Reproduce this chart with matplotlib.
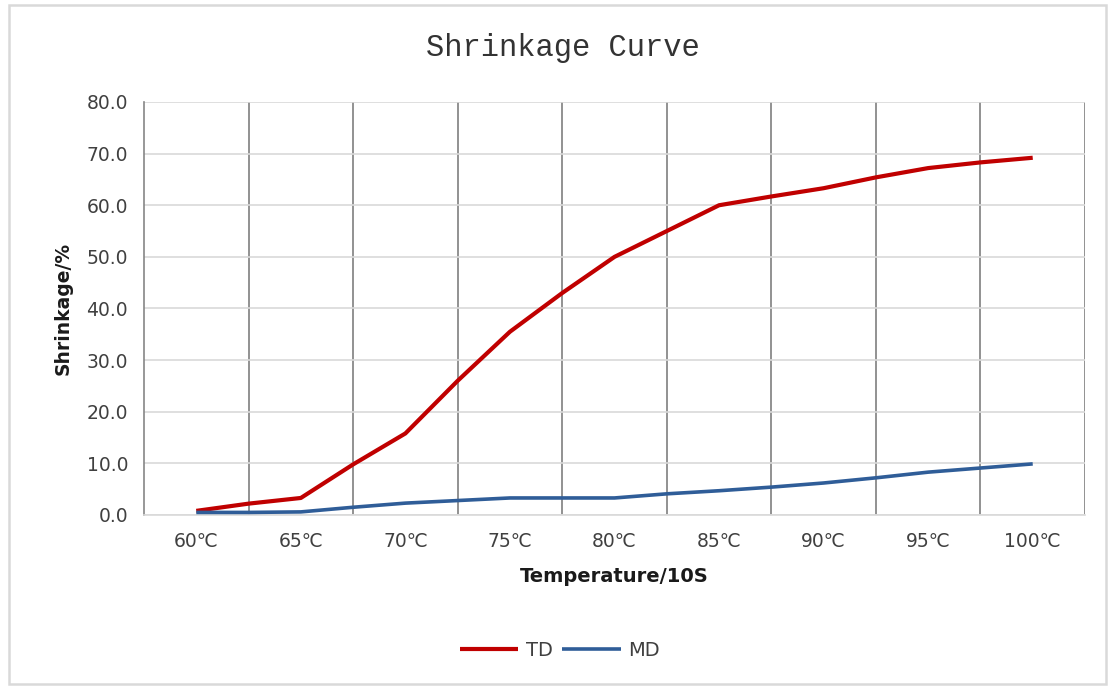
import matplotlib
matplotlib.use("Agg")
import matplotlib.pyplot as plt
from matplotlib.patches import Rectangle
from matplotlib.ticker import FixedLocator, FixedFormatter

temps = [60, 62.5, 65, 67.5, 70, 72.5, 75, 77.5, 80, 82.5, 85, 87.5, 90, 92.5, 95, 97.5, 100]
td = [0.8, 2.2, 3.3, 9.8, 15.8, 26.0, 35.5, 43.0, 50.0, 55.0, 60.0, 61.7, 63.3, 65.4, 67.2, 68.3, 69.2]
md = [0.5, 0.5, 0.6, 1.5, 2.3, 2.8, 3.3, 3.3, 3.3, 4.1, 4.7, 5.4, 6.2, 7.2, 8.3, 9.1, 9.9]
tick_temps = [60, 65, 70, 75, 80, 85, 90, 95, 100]
tick_labels = ["60℃", "65℃", "70℃", "75℃", "80℃", "85℃", "90℃", "95℃", "100℃"]
y_ticks = [0, 10, 20, 30, 40, 50, 60, 70, 80]

W, H = 1110, 687
fig = plt.figure(figsize=(W / 100, H / 100), dpi=100)
fig.patch.set_facecolor("white")

# chart area border
fig.add_artist(Rectangle((9 / W, 3 / H), 1097 / W, 679 / H, transform=fig.transFigure,
                         fill=False, edgecolor="#d9d9d9", linewidth=1.8))

ax = fig.add_axes([144 / W, (H - 515) / H, (1085 - 144) / W, (515 - 102) / H])

ax.plot(temps, td, color="#c00000", linewidth=3.0, label="TD", solid_capstyle="butt", zorder=3)
ax.plot(temps, md, color="#2f5d98", linewidth=2.6, label="MD", solid_capstyle="butt", zorder=3)

ax.set_xlim(57.5, 102.5)
ax.set_ylim(0, 80)

ax.set_yticks(y_ticks)
ax.set_yticklabels([f"{v:.1f}" for v in y_ticks])
ax.xaxis.set_major_locator(FixedLocator(tick_temps))
ax.xaxis.set_major_formatter(FixedFormatter(tick_labels))
minor = [t + 2.5 for t in tick_temps[:-1]] + [102.5]
ax.xaxis.set_minor_locator(FixedLocator(minor))

ax.grid(axis="y", which="major", color="#d9d9d9", linewidth=1.2, zorder=0)
ax.grid(axis="x", which="minor", color="#7f7f7f", linewidth=1.2, zorder=0)
ax.tick_params(axis="both", which="both", length=0, colors="#404040")
ax.tick_params(axis="x", pad=12)
ax.tick_params(axis="y", pad=11.5)

for lab in ax.get_xticklabels() + ax.get_yticklabels():
    lab.set_family("DejaVu Sans")
    lab.set_fontsize(13.5)
    lab.set_color("#404040")

for s in ["top", "right"]:
    ax.spines[s].set_visible(False)
ax.spines["left"].set_color("#868686")
ax.spines["left"].set_linewidth(1.2)
ax.spines["bottom"].set_color("#d9d9d9")
ax.spines["bottom"].set_linewidth(1.2)

ax.set_ylabel("Shrinkage/%", family="DejaVu Sans", fontweight="bold",
              fontsize=13.5, color="#1a1a1a", labelpad=10)
ax.set_xlabel("Temperature/10S", family="DejaVu Sans", fontweight="bold",
              fontsize=14, color="#1a1a1a", labelpad=12)

fig.text(563 / W, 1 - 48 / H, "Shrinkage Curve", family=["Liberation Mono", "DejaVu Sans Mono"],
         fontsize=22, ha="center", va="center", color="#333333")

leg = ax.legend(loc="center", bbox_to_anchor=(560 / W, 1 - 650 / H), bbox_transform=fig.transFigure,
                ncol=2, frameon=False, handlelength=3.0, handletextpad=0.4, columnspacing=0.5,
                prop={"family": "DejaVu Sans", "size": 14})
for t in leg.get_texts():
    t.set_color("#404040")

fig.savefig("out.png", dpi=100, facecolor="white")
